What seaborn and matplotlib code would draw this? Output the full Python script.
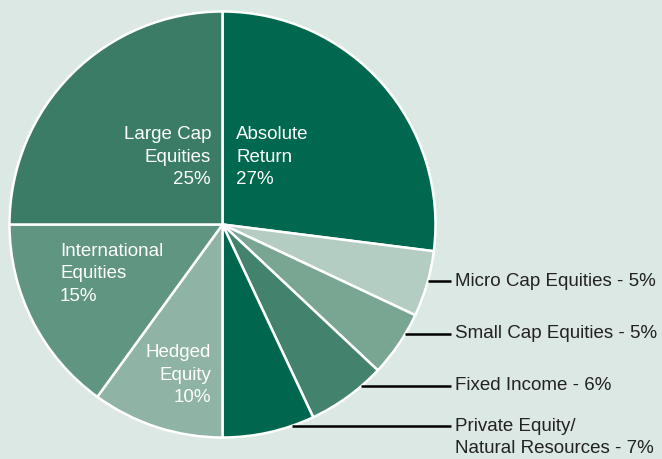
import numpy as np
import matplotlib
matplotlib.use("Agg")
import matplotlib.pyplot as plt
import seaborn as sns

# ---- data ----
categories = ["Absolute Return", "Micro Cap Equities", "Small Cap Equities", "Fixed Income",
              "Private Equity/ Natural Resources", "Hedged Equity", "International Equities",
              "Large Cap Equities"]
shares = [27, 5, 5, 6, 7, 10, 15, 25]
colors = ["#00684f", "#b4cdc3", "#79a693", "#43826c", "#00664d", "#8fb3a5", "#5f9581", "#3b7c66"]

inside_labels = {
    "Large Cap Equities": "Large Cap\nEquities\n25%",
    "Absolute Return": "Absolute\nReturn\n27%",
    "International Equities": "International\nEquities\n15%",
    "Hedged Equity": "Hedged\nEquity\n10%",
}
outside_labels = {
    "Micro Cap Equities": "Micro Cap Equities - 5%",
    "Small Cap Equities": "Small Cap Equities - 5%",
    "Fixed Income": "Fixed Income - 6%",
    "Private Equity/ Natural Resources": "Private Equity/\nNatural Resources - 7%",
}

sns.set_theme(style="white")
plt.rcParams["font.family"] = ["Liberation Sans", "DejaVu Sans"]
bg = "#dce8e3"

W, H = 662, 459
cx, cy, r = 222.5, 224.5, 213.0  # pie centre and radius in pixels

fig = plt.figure(figsize=(W / 100, H / 100), dpi=100, facecolor=bg)
ax = fig.add_axes([0, 0, 1, 1])
ax.set_facecolor(bg)

ax.pie(shares, colors=colors, startangle=90, counterclock=False,
       wedgeprops=dict(edgecolor="white", linewidth=1.8))

# map pixel layout to data units (radius = 1)
ax.set_xlim(-cx / r, (W - cx) / r)
ax.set_ylim(-(H - cy) / r, cy / r)
ax.set_aspect("auto")
ax.axis("off")

def px(x):
    return (x - cx) / r

def py(y):
    return (cy - y) / r

fs = 13.5
ls = 1.45
# labels inside the wedges
ax.text(px(211), py(157), inside_labels["Large Cap Equities"], ha="right", va="center",
        color="white", fontsize=fs, linespacing=ls)
ax.text(px(236), py(157), inside_labels["Absolute Return"], ha="left", va="center",
        color="white", fontsize=fs, linespacing=ls)
ax.text(px(60), py(274), inside_labels["International Equities"], ha="left", va="center",
        color="white", fontsize=fs, linespacing=ls)
ax.text(px(211), py(375), inside_labels["Hedged Equity"], ha="right", va="center",
        color="white", fontsize=fs, linespacing=ls)

# labels outside with leader lines
line_y = {"Micro Cap Equities": 281, "Small Cap Equities": 334,
          "Fixed Income": 386, "Private Equity/ Natural Resources": 426}
for name, ypix in line_y.items():
    yd = py(ypix)
    xs = np.sqrt(max(1 - yd ** 2, 0))
    ax.plot([xs, px(451)], [yd, yd], color="black", lw=1.8, solid_capstyle="butt")
    txt = outside_labels[name]
    if "\n" in txt:
        ax.text(px(455), py(ypix + 11.5), txt, ha="left", va="center", color="#222222",
                fontsize=fs, linespacing=1.42)
    else:
        ax.text(px(455), yd, txt, ha="left", va="center", color="#222222", fontsize=fs)

fig.savefig("out.png", dpi=100, facecolor=bg)
